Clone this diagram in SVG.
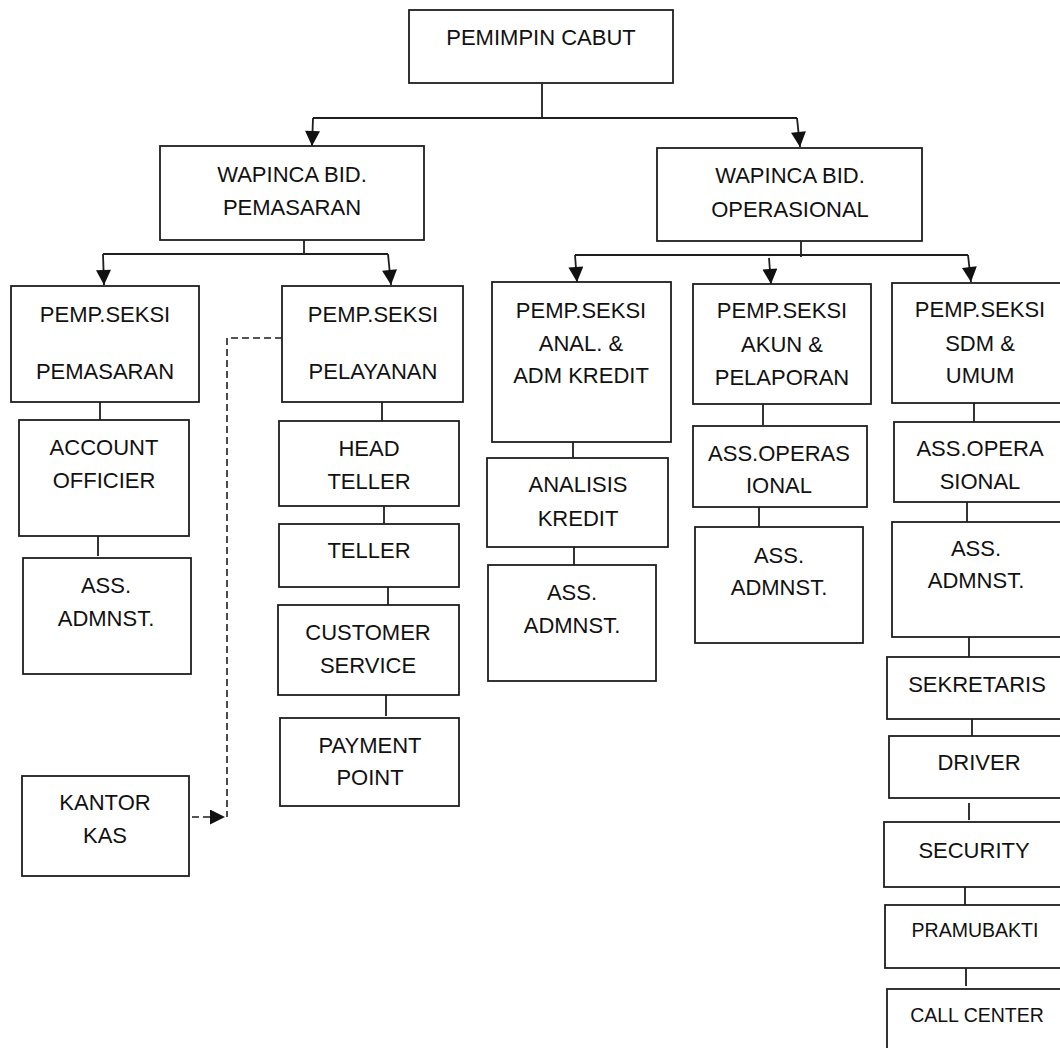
<svg xmlns="http://www.w3.org/2000/svg" width="1060" height="1048" viewBox="0 0 1060 1048">
<style>
  .box { fill: #ffffff; stroke: #1e1e1e; stroke-width: 1.8; }
  .t { font-family: "Liberation Sans", Arial, sans-serif; font-size: 22px; fill: #111111; text-anchor: middle; }
  .ts { font-size: 19.5px; }
  .ln { stroke: #1e1e1e; stroke-width: 1.8; fill: none; }
  .dash { stroke: #1e1e1e; stroke-width: 1.6; fill: none; stroke-dasharray: 7 4; }
</style>
<defs>
  <marker id="ah" viewBox="0 0 14 14" refX="14" refY="7" markerWidth="16" markerHeight="15" markerUnits="userSpaceOnUse" orient="auto">
    <path d="M0,0 L14,7 L0,14 z" fill="#111111"/>
  </marker>
</defs>
<rect x="0" y="0" width="1060" height="1048" fill="#ffffff"/>

<g id="connectors">
  <line class="ln" x1="542" y1="84" x2="542" y2="118"/>
  <line class="ln" x1="313" y1="118" x2="797" y2="118"/>
  <line class="ln" x1="313" y1="118" x2="312" y2="146" marker-end="url(#ah)"/>
  <line class="ln" x1="797" y1="118" x2="800" y2="147" marker-end="url(#ah)"/>

  <line class="ln" x1="304" y1="240" x2="304" y2="254"/>
  <line class="ln" x1="103" y1="254" x2="388" y2="254"/>
  <line class="ln" x1="103" y1="254" x2="104" y2="285" marker-end="url(#ah)"/>
  <line class="ln" x1="388" y1="254" x2="391" y2="285" marker-end="url(#ah)"/>

  <line class="ln" x1="801" y1="241" x2="801" y2="257"/>
  <line class="ln" x1="575" y1="255" x2="968" y2="255"/>
  <line class="ln" x1="575" y1="255" x2="577" y2="282" marker-end="url(#ah)"/>
  <line class="ln" x1="769" y1="258" x2="771" y2="284" marker-end="url(#ah)"/>
  <line class="ln" x1="968" y1="255" x2="971" y2="282" marker-end="url(#ah)"/>

  <line class="ln" x1="100" y1="402" x2="100" y2="420"/>
  <line class="ln" x1="98" y1="536" x2="98" y2="556"/>
  <line class="ln" x1="382" y1="402" x2="382" y2="421"/>
  <line class="ln" x1="384" y1="506" x2="384" y2="524"/>
  <line class="ln" x1="388" y1="587" x2="388" y2="605"/>
  <line class="ln" x1="386" y1="695" x2="386" y2="716"/>
  <line class="ln" x1="573" y1="442" x2="573" y2="458"/>
  <line class="ln" x1="574" y1="547" x2="574" y2="565"/>
  <line class="ln" x1="763" y1="404" x2="763" y2="425"/>
  <line class="ln" x1="759" y1="507" x2="759" y2="527"/>
  <line class="ln" x1="974" y1="403" x2="974" y2="422"/>
  <line class="ln" x1="967" y1="502" x2="967" y2="522"/>
  <line class="ln" x1="969" y1="637" x2="969" y2="657"/>
  <line class="ln" x1="972" y1="719" x2="972" y2="736"/>
  <line class="ln" x1="969" y1="803" x2="969" y2="820"/>
  <line class="ln" x1="965" y1="887" x2="965" y2="905"/>
  <line class="ln" x1="966" y1="968" x2="966" y2="986"/>

  <path class="dash" d="M282,338 L227,338 L227,817"/>
  <line class="dash" x1="192" y1="817" x2="225" y2="817" marker-end="url(#ah)"/>
</g>

<g id="pemimpin-cabut">
  <rect class="box" x="409" y="10" width="264" height="73"/>
  <text class="t" x="541" y="45" font-size="23">PEMIMPIN CABUT</text>
</g>
<g id="wapinca-pemasaran">
  <rect class="box" x="160" y="146" width="264" height="94"/>
  <text class="t" x="292" y="182">WAPINCA BID.</text>
  <text class="t" x="292" y="215">PEMASARAN</text>
</g>
<g id="wapinca-operasional">
  <rect class="box" x="657" y="148" width="265" height="93"/>
  <text class="t" x="790" y="183">WAPINCA BID.</text>
  <text class="t" x="790" y="217">OPERASIONAL</text>
</g>
<g id="seksi-pemasaran">
  <rect class="box" x="11" y="286" width="188" height="116"/>
  <text class="t" x="105" y="322">PEMP.SEKSI</text>
  <text class="t" x="105" y="379">PEMASARAN</text>
</g>
<g id="account-officier">
  <rect class="box" x="19" y="420" width="170" height="116"/>
  <text class="t" x="104" y="455">ACCOUNT</text>
  <text class="t" x="104" y="488">OFFICIER</text>
</g>
<g id="ass-admnst-1">
  <rect class="box" x="23" y="558" width="168" height="116"/>
  <text class="t" x="106" y="593">ASS.</text>
  <text class="t" x="106" y="626">ADMNST.</text>
</g>
<g id="kantor-kas">
  <rect class="box" x="22" y="776" width="167" height="100"/>
  <text class="t" x="105" y="810">KANTOR</text>
  <text class="t" x="105" y="843">KAS</text>
</g>
<g id="seksi-pelayanan">
  <rect class="box" x="282" y="286" width="181" height="116"/>
  <text class="t" x="373" y="322">PEMP.SEKSI</text>
  <text class="t" x="373" y="379">PELAYANAN</text>
</g>
<g id="head-teller">
  <rect class="box" x="279" y="421" width="180" height="85"/>
  <text class="t" x="369" y="456">HEAD</text>
  <text class="t" x="369" y="489">TELLER</text>
</g>
<g id="teller">
  <rect class="box" x="279" y="524" width="180" height="63"/>
  <text class="t" x="369" y="558">TELLER</text>
</g>
<g id="customer-service">
  <rect class="box" x="278" y="605" width="181" height="90"/>
  <text class="t" x="368" y="640">CUSTOMER</text>
  <text class="t" x="368" y="673">SERVICE</text>
</g>
<g id="payment-point">
  <rect class="box" x="280" y="718" width="179" height="88"/>
  <text class="t" x="370" y="753">PAYMENT</text>
  <text class="t" x="370" y="785">POINT</text>
</g>
<g id="seksi-anal-adm-kredit">
  <rect class="box" x="492" y="282" width="179" height="160"/>
  <text class="t" x="581" y="318">PEMP.SEKSI</text>
  <text class="t" x="581" y="351">ANAL. &amp;</text>
  <text class="t" x="581" y="383">ADM KREDIT</text>
</g>
<g id="analisis-kredit">
  <rect class="box" x="487" y="458" width="181" height="89"/>
  <text class="t" x="578" y="492">ANALISIS</text>
  <text class="t" x="578" y="526">KREDIT</text>
</g>
<g id="ass-admnst-2">
  <rect class="box" x="488" y="565" width="168" height="116"/>
  <text class="t" x="572" y="600">ASS.</text>
  <text class="t" x="572" y="633">ADMNST.</text>
</g>
<g id="seksi-akun-pelaporan">
  <rect class="box" x="693" y="284" width="178" height="120"/>
  <text class="t" x="782" y="318">PEMP.SEKSI</text>
  <text class="t" x="782" y="352">AKUN &amp;</text>
  <text class="t" x="782" y="385">PELAPORAN</text>
</g>
<g id="ass-operasional-1">
  <rect class="box" x="693" y="426" width="174" height="81"/>
  <text class="t" x="779" y="461">ASS.OPERAS</text>
  <text class="t" x="779" y="493">IONAL</text>
</g>
<g id="ass-admnst-3">
  <rect class="box" x="695" y="527" width="168" height="116"/>
  <text class="t" x="779" y="563">ASS.</text>
  <text class="t" x="779" y="595">ADMNST.</text>
</g>
<g id="seksi-sdm-umum">
  <rect class="box" x="892" y="283" width="176" height="120"/>
  <text class="t" x="980" y="317">PEMP.SEKSI</text>
  <text class="t" x="980" y="351">SDM &amp;</text>
  <text class="t" x="980" y="383">UMUM</text>
</g>
<g id="ass-operasional-2">
  <rect class="box" x="894" y="422" width="174" height="80"/>
  <text class="t" x="980" y="456">ASS.OPERA</text>
  <text class="t" x="980" y="489">SIONAL</text>
</g>
<g id="ass-admnst-4">
  <rect class="box" x="892" y="522" width="176" height="115"/>
  <text class="t" x="976" y="556">ASS.</text>
  <text class="t" x="976" y="588">ADMNST.</text>
</g>
<g id="sekretaris">
  <rect class="box" x="887" y="657" width="181" height="62"/>
  <text class="t" x="977" y="692">SEKRETARIS</text>
</g>
<g id="driver">
  <rect class="box" x="889" y="736" width="179" height="62"/>
  <text class="t" x="979" y="770">DRIVER</text>
</g>
<g id="security">
  <rect class="box" x="884" y="822" width="184" height="65"/>
  <text class="t" x="974" y="858">SECURITY</text>
</g>
<g id="pramubakti">
  <rect class="box" x="885" y="905" width="183" height="63"/>
  <text class="t ts" x="975" y="937">PRAMUBAKTI</text>
</g>
<g id="call-center">
  <rect class="box" x="887" y="989" width="181" height="70"/>
  <text class="t ts" x="977" y="1022">CALL CENTER</text>
</g>
</svg>
